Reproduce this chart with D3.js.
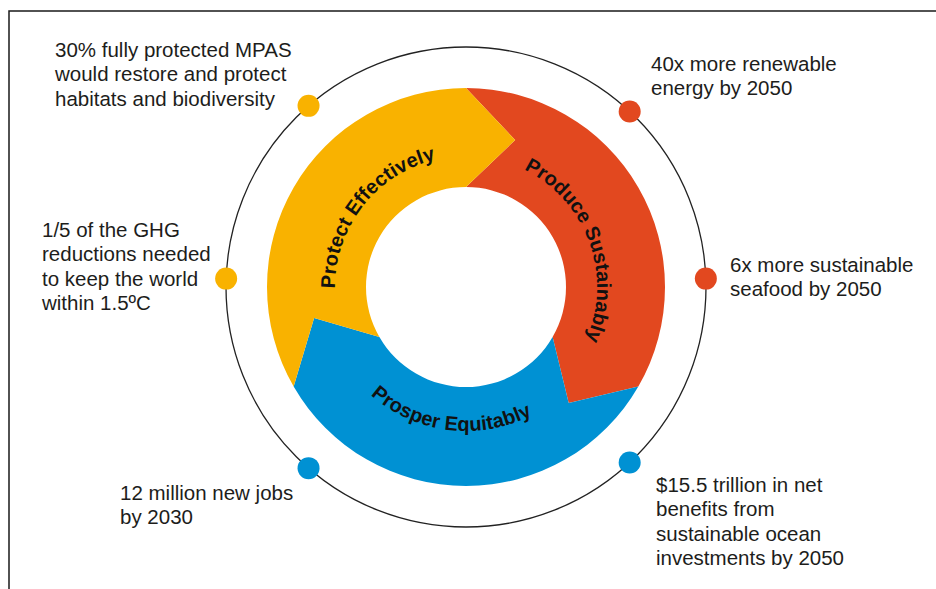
<!DOCTYPE html>
<html>
<head>
<meta charset="utf-8">
<script src="https://cdn.jsdelivr.net/npm/d3@7"></script>
<style>
body { margin: 0; background: #fff; }
svg text { font-family: Arial, "Liberation Sans", sans-serif; }
</style>
</head>
<body>
<div id="chart"></div>
<script>
// ring segments, clockwise from the top
var segments = ["Produce Sustainably", "Prosper Equitably", "Protect Effectively"];
var segColours = ["#e2481f", "#0091d3", "#f9b200"];
var labelAngle = [70, 187, 308]; // degrees, centre of each curved label

// dots on the outer circle
var dotAngle = [43, 88, 137, 221, -88, -41];
var dotSeg = [0, 0, 1, 1, 2, 2];
var notes = [
  ["40x more renewable", "energy by 2050"],
  ["6x more sustainable", "seafood by 2050"],
  ["$15.5 trillion in net", "benefits from", "sustainable ocean", "investments by 2050"],
  ["12 million new jobs", "by 2030"],
  ["1/5 of the GHG", "reductions needed", "to keep the world", "within 1.5ºC"],
  ["30% fully protected MPAS", "would restore and protect", "habitats and biodiversity"]
];

// layout
var width = 936, height = 589;
var cx = 466, cy = 287;
var outerR = 199, innerR = 100, midR = 155, ringR = 240, dotR = 11;
var noteOffset = [[185, -216], [264, -15], [190, 205], [-346, 213], [-424, -50], [-411, -230]];
var lineH = 24.3;

var deg = d3.scaleLinear().domain([0, 360]).range([0, 2 * Math.PI]);
var segAngle = d3.scaleLinear().domain([0, segments.length]).range([0, 2 * Math.PI]);
var tip = deg(18.5);

function pt(a, rad) { return [rad * Math.sin(a), -rad * Math.cos(a)]; }

function chevron(a0, a1) {
  var p = d3.path();
  var s = pt(a0, outerR);
  p.moveTo(s[0], s[1]);
  p.arc(0, 0, outerR, a0 - Math.PI / 2, a1 - Math.PI / 2, false);
  var t = pt(a1 + tip, midR); p.lineTo(t[0], t[1]);
  var q = pt(a1, innerR); p.lineTo(q[0], q[1]);
  p.arc(0, 0, innerR, a1 - Math.PI / 2, a0 - Math.PI / 2, true);
  var n = pt(a0 + tip, midR); p.lineTo(n[0], n[1]);
  p.closePath();
  return p.toString();
}

function labelArc(c, rr, flip) {
  var p = d3.path();
  var a0 = flip ? c + Math.PI / 2 : c - Math.PI / 2;
  var a1 = flip ? c - Math.PI / 2 : c + Math.PI / 2;
  var s = pt(a0, rr);
  p.moveTo(s[0], s[1]);
  p.arc(0, 0, rr, a0 - Math.PI / 2, a1 - Math.PI / 2, flip);
  return p.toString();
}

var svg = d3.select("#chart").append("svg")
  .attr("width", width).attr("height", height);

svg.append("rect")
  .attr("x", 9).attr("y", 11)
  .attr("width", width + 20).attr("height", height + 20)
  .attr("fill", "none").attr("stroke", "#1a1a1a").attr("stroke-width", 1.5);

var g = svg.append("g").attr("transform", "translate(" + cx + "," + cy + ")");

g.append("circle").attr("r", ringR)
  .attr("fill", "none").attr("stroke", "#222").attr("stroke-width", 1.3);

g.selectAll(".seg")
  .data(segments)
  .enter().append("path")
  .attr("class", "seg")
  .attr("d", (d, i) => chevron(segAngle(i), segAngle(i + 1)))
  .attr("fill", (d, i) => segColours[i]);

// curved labels
var defs = svg.append("defs");
segments.forEach(function(s, i) {
  var c = deg(labelAngle[i]);
  var flip = Math.cos(c) < 0;
  defs.append("path")
    .attr("id", "lab" + i)
    .attr("d", labelArc(c, flip ? 144 : 131, flip));
  g.append("text")
    .attr("font-size", 20).attr("font-weight", "bold").attr("fill", "#111")
    .attr("letter-spacing", 0.1)
    .append("textPath")
    .attr("href", "#lab" + i)
    .attr("startOffset", "50%")
    .attr("text-anchor", "middle")
    .text(s);
});

g.selectAll(".dot")
  .data(dotAngle)
  .enter().append("circle")
  .attr("class", "dot")
  .attr("cx", d => pt(deg(d), ringR)[0])
  .attr("cy", d => pt(deg(d), ringR)[1])
  .attr("r", dotR)
  .attr("fill", (d, i) => segColours[dotSeg[i]]);

notes.forEach(function(lines, i) {
  var t = g.append("text")
    .attr("x", noteOffset[i][0]).attr("y", noteOffset[i][1])
    .attr("font-size", 20.5).attr("fill", "#1d1d1b");
  lines.forEach(function(l, j) {
    t.append("tspan").attr("x", noteOffset[i][0]).attr("y", noteOffset[i][1] + j * lineH).text(l);
  });
});
</script>
</body>
</html>
